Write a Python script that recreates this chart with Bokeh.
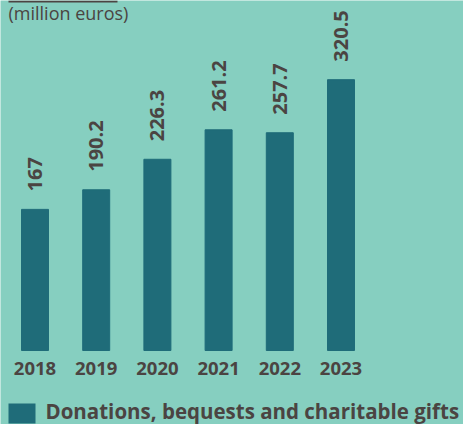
import math
from bokeh.plotting import figure
from bokeh.models import Range1d, Label, BoxAnnotation, ColumnDataSource
from bokeh.core.properties import value
from bokeh.embed import file_html
from bokeh.resources import INLINE

years = [2018, 2019, 2020, 2021, 2022, 2023]
amounts = [167, 190.2, 226.3, 261.2, 257.7, 320.5]
amount_labels = ["167", "190.2", "226.3", "261.2", "257.7", "320.5"]
year_labels = ["2018", "2019", "2020", "2021", "2022", "2023"]
unit_label = "(million euros)"
series_name = "Donations, bequests and charitable gifts"

BG = "#86CFC0"
BAR = "#1F6C79"
TXT = "#4B4442"
FONT = "Open Sans"

W, H = 463, 424
px_per_year = 61.2
x0 = 2018 - 34.5 / px_per_year
scale = 0.845
y0 = -74 / scale

src = ColumnDataSource(dict(x=years, top=amounts, lab=amount_labels, ylab=year_labels,
                            zero=[0] * len(years)))

p = figure(width=W, height=H, output_backend="svg", toolbar_location=None,
           x_range=Range1d(x0, x0 + W / px_per_year),
           y_range=Range1d(y0, y0 + H / scale),
           min_border=0, background_fill_color=BG, border_fill_color=BG,
           outline_line_color=None)
p.axis.visible = False
p.grid.visible = False

p.vbar(x="x", top="top", bottom=0, width=27 / px_per_year, color=BAR, source=src)

p.text(x="x", y="top", text="lab", source=src, angle=math.pi / 2,
       text_align="left", text_baseline="middle", y_offset=-18,
       text_font=value(FONT), text_font_size="20px", text_font_style="bold",
       text_color=TXT)

p.text(x="x", y="zero", text="ylab", source=src, text_align="center",
       text_baseline="alphabetic", y_offset=18, text_font=value(FONT),
       text_font_size="18.5px", text_font_style="bold", text_color=TXT)

# top rule and unit caption
p.add_layout(BoxAnnotation(left=8, right=117, top=H, bottom=H - 2,
                           left_units="screen", right_units="screen",
                           top_units="screen", bottom_units="screen",
                           fill_color=TXT, fill_alpha=1, line_color=None))
p.add_layout(Label(x=8, y=H - 12, x_units="screen", y_units="screen", text=unit_label,
                   text_baseline="alphabetic", text_align="left", text_font=FONT,
                   text_font_size="18px", text_color=TXT))

# legend swatch and label
p.add_layout(BoxAnnotation(left=8, right=35, top=H - 403, bottom=H - 423,
                           left_units="screen", right_units="screen",
                           top_units="screen", bottom_units="screen",
                           fill_color=BAR, fill_alpha=1, line_color=None))
p.add_layout(Label(x=45, y=H - 410, x_units="screen", y_units="screen", text=series_name,
                   text_baseline="alphabetic", text_align="left", text_font=FONT,
                   text_font_size="20.5px", text_font_style="bold", text_color=TXT))

open("out.html", "w").write(file_html(p, INLINE))
